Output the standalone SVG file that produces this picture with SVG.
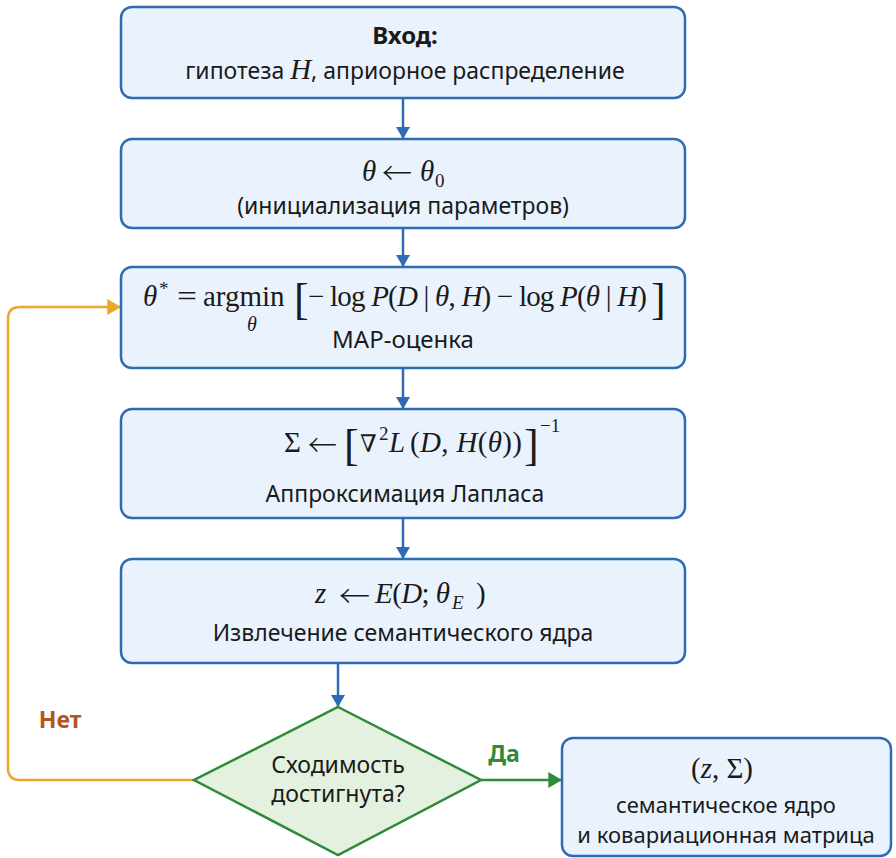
<svg xmlns="http://www.w3.org/2000/svg" width="896" height="858" viewBox="0 0 896 858">
<defs>
<style>
.box{fill:#eaf3fd;stroke:#2d6cb4;stroke-width:2.5}
.dia{fill:#e3f1de;stroke:#2f8a3a;stroke-width:2.5}
.t{font-family:"Noto Sans","Open Sans",sans-serif;font-size:23px;fill:#1a1a1a;text-anchor:middle}
.b{font-weight:bold}
.m{font-family:"Liberation Serif","Times New Roman",serif;font-size:29px;fill:#1a1a1a}
.s{font-size:19px}
.br{font-size:44px}
.ar{font-family:"Noto Sans CJK SC",sans-serif;font-size:30px;font-weight:300;fill:#1a1a1a}
.nb{font-family:"DejaVu Serif",serif;font-size:24px;fill:#1a1a1a}
.i{font-style:italic}
.blue{stroke:#2d6cb4;stroke-width:2.5;fill:none}
.org{stroke:#e8a82a;stroke-width:2.5;fill:none}
.grn{stroke:#2f8a3a;stroke-width:2.5;fill:none}
.lbl{font-family:"Noto Sans","Open Sans",sans-serif;font-size:23px;font-weight:bold;text-anchor:middle}
</style>
<marker id="ab" viewBox="0 0 12 14" refX="12" refY="7" markerWidth="12" markerHeight="14" markerUnits="userSpaceOnUse" orient="auto"><path d="M0,0 L12,7 L0,14 Z" fill="#2d6cb4"/></marker>
<marker id="ao" viewBox="0 0 12 14" refX="12" refY="7" markerWidth="14" markerHeight="16" markerUnits="userSpaceOnUse" orient="auto"><path d="M0,0 L12,7 L0,14 Z" fill="#e8a82a"/></marker>
<marker id="ag" viewBox="0 0 12 14" refX="12" refY="7" markerWidth="14" markerHeight="16" markerUnits="userSpaceOnUse" orient="auto"><path d="M0,0 L12,7 L0,14 Z" fill="#2f8a3a"/></marker>
</defs>
<rect width="896" height="858" fill="#ffffff"/>
<g id="connectors">
<path class="blue" d="M403,98 V139" marker-end="url(#ab)"/>
<path class="blue" d="M403,228 V267" marker-end="url(#ab)"/>
<path class="blue" d="M403,368 V409" marker-end="url(#ab)"/>
<path class="blue" d="M403,518 V559" marker-end="url(#ab)"/>
<path class="blue" d="M338,663 V707" marker-end="url(#ab)"/>
<path class="org" d="M194,780 H20 Q8,780 8,768 V319 Q8,307 20,307 H121" marker-end="url(#ao)"/>
<path class="grn" d="M481,780 H562" marker-end="url(#ag)"/>
<text class="lbl" x="60" y="728" fill="#b0561e">Нет</text>
<text class="lbl" x="504" y="762" fill="#2f8a3a">Да</text>
</g>
<g id="input">
<rect class="box" x="121" y="7" width="564" height="91" rx="11"/>
<text class="t b" x="405" y="44" style="font-size:24px">Вход:</text>
<text class="t" x="405" y="79">гипотеза <tspan class="m i">H</tspan>, априорное распределение</text>
</g>
<g id="init">
<rect class="box" x="121" y="139" width="564" height="89" rx="11"/>
<text class="m i" x="362" y="181">θ</text>
<text class="ar" x="382" y="184" textLength="30" lengthAdjust="spacingAndGlyphs">←</text>
<text class="m i" x="420" y="181">θ</text>
<text class="m s" x="435" y="187">0</text>
<text class="t" x="403" y="214">(инициализация параметров)</text>
</g>
<g id="map">
<rect class="box" x="121" y="267" width="564" height="101" rx="11"/>
<text class="m i" x="143" y="306">θ</text>
<text class="m s" x="159" y="295">*</text>
<text class="m" x="177" y="306" textLength="20" lengthAdjust="spacingAndGlyphs">=</text>
<text class="m" x="203" y="306">argmin</text>
<text class="m i" x="252" y="331" style="font-size:20px" text-anchor="middle">θ</text>
<text class="m br" x="294" y="314">[</text>
<text class="m" x="308" y="306" textLength="339" lengthAdjust="spacing">− log <tspan class="i">P</tspan>(<tspan class="i">D</tspan> | <tspan class="i">θ</tspan>, <tspan class="i">H</tspan>) − log <tspan class="i">P</tspan>(<tspan class="i">θ</tspan> | <tspan class="i">H</tspan>)</text>
<text class="m br" x="651" y="314">]</text>
<text class="t" x="403" y="348" style="font-size:24px">MAP-оценка</text>
</g>
<g id="laplace">
<rect class="box" x="121" y="409" width="564" height="109" rx="11"/>
<text class="m" x="284" y="452">Σ</text>
<text class="ar" x="308" y="456" textLength="29" lengthAdjust="spacingAndGlyphs">←</text>
<text class="m br" x="344" y="460">[</text>
<text class="nb" x="360" y="452">∇</text>
<text class="m s" x="379" y="440">2</text>
<text class="m i" x="389" y="452">L</text>
<text class="m" x="410" y="452" textLength="112" lengthAdjust="spacing">(<tspan class="i">D</tspan>, <tspan class="i">H</tspan>(<tspan class="i">θ</tspan>))</text>
<text class="m br" x="524" y="460">]</text>
<text class="m s" x="540" y="432">−1</text>
<text class="t" x="405" y="502">Аппроксимация Лапласа</text>
</g>
<g id="extract">
<rect class="box" x="121" y="559" width="564" height="104" rx="11"/>
<text class="m i" x="315" y="603">z</text>
<text class="ar" x="339" y="607" textLength="31" lengthAdjust="spacingAndGlyphs">←</text>
<text class="m" x="375" y="603" textLength="75" lengthAdjust="spacing"><tspan class="i">E</tspan>(<tspan class="i">D</tspan>; <tspan class="i">θ</tspan></text>
<text class="m i s" x="452" y="609">E</text>
<text class="m" x="476" y="603">)</text>
<text class="t" x="403" y="641">Извлечение семантического ядра</text>
</g>
<g id="decision">
<polygon class="dia" points="338,707 481,780 338,855 194,780"/>
<text class="t" x="338" y="773">Сходимость</text>
<text class="t" x="338" y="802">достигнута?</text>
</g>
<g id="result">
<rect class="box" x="562" y="738" width="329" height="118" rx="11"/>
<text class="m" x="722" y="778" text-anchor="middle">(<tspan class="i">z</tspan>, Σ)</text>
<text class="t" x="726" y="813" style="font-size:22px">семантическое ядро</text>
<text class="t" x="726" y="843" style="font-size:22px">и ковариационная матрица</text>
</g>
</svg>
